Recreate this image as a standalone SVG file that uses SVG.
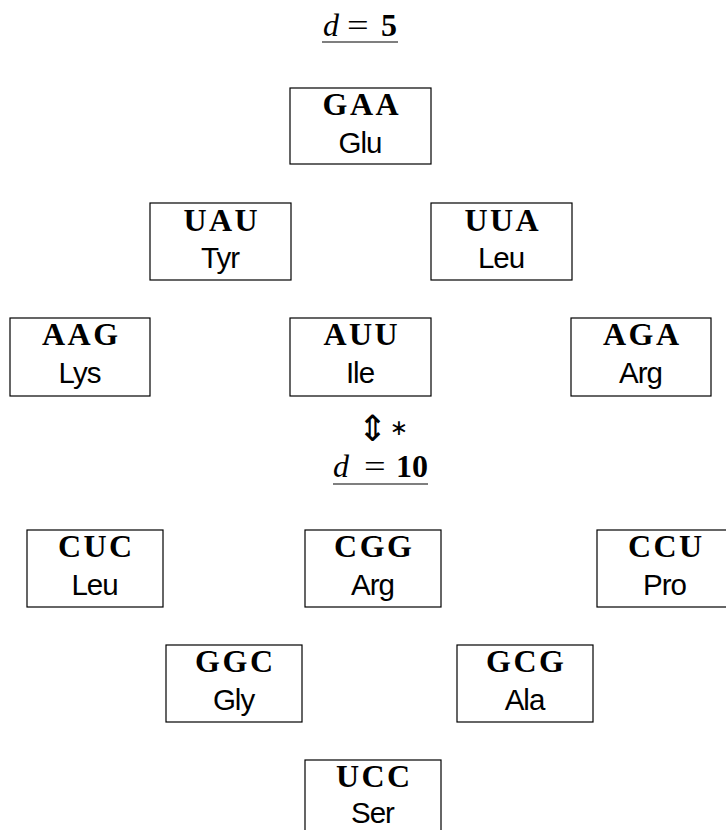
<svg xmlns="http://www.w3.org/2000/svg" width="726" height="830" viewBox="0 0 726 830">
<style>
.box{fill:#fff;stroke:#000;stroke-width:1.2}
.cod{font-family:"Liberation Serif",serif;font-weight:bold;font-size:32px;text-anchor:middle;letter-spacing:2.5px}
.aa{font-family:"Liberation Sans",sans-serif;font-size:29.5px;text-anchor:middle;letter-spacing:-1px}
.m{font-family:"Liberation Serif",serif;font-size:32px}
.ul{stroke:#000;stroke-width:1.2}
</style>
<rect width="726" height="830" fill="#fff"/>
<g id="title5">
<text class="m" x="323" y="36" font-style="italic">d</text>
<text class="m" x="347" y="36" transform="translate(347 0) scale(1.2 1) translate(-347 0)">=</text>
<text class="m" x="381" y="36" font-weight="bold">5</text>
<line class="ul" x1="322" y1="42" x2="398" y2="42"/>
</g>
<g id="GAA"><rect class="box" x="290" y="88" width="141" height="76"/><text class="cod" x="361.8" y="115">GAA</text><text class="aa" x="360" y="153">Glu</text></g>
<g id="UAU"><rect class="box" x="150" y="203" width="141" height="77"/><text class="cod" x="221.8" y="231">UAU</text><text class="aa" x="220" y="268">Tyr</text></g>
<g id="UUA"><rect class="box" x="431" y="203" width="141" height="77"/><text class="cod" x="502.8" y="231">UUA</text><text class="aa" x="501" y="268">Leu</text></g>
<g id="AAG"><rect class="box" x="10" y="318" width="140" height="78"/><text class="cod" x="81.3" y="345">AAG</text><text class="aa" x="79.5" y="383">Lys</text></g>
<g id="AUU"><rect class="box" x="290" y="318" width="141" height="78"/><text class="cod" x="361.8" y="345">AUU</text><text class="aa" x="360" y="383">Ile</text></g>
<g id="AGA"><rect class="box" x="571" y="318" width="140" height="78"/><text class="cod" x="642.3" y="345">AGA</text><text class="aa" x="640.5" y="383">Arg</text></g>
<g id="equiv">
<text x="372.5" y="441" font-family="DejaVu Sans,sans-serif" font-size="36" text-anchor="middle">⇕</text>
<text x="399" y="435" font-family="DejaVu Sans,sans-serif" font-size="22" text-anchor="middle">∗</text>
</g>
<g id="title10">
<text class="m" x="333" y="477" font-style="italic">d</text>
<text class="m" x="364" y="477" transform="translate(364 0) scale(1.2 1) translate(-364 0)">=</text>
<text class="m" x="396" y="477" font-weight="bold">10</text>
<line class="ul" x1="333" y1="484" x2="428" y2="484"/>
</g>
<g id="CUC"><rect class="box" x="27" y="530" width="136" height="77"/><text class="cod" x="96.3" y="557">CUC</text><text class="aa" x="94.5" y="595">Leu</text></g>
<g id="CGG"><rect class="box" x="305" y="530" width="136" height="77"/><text class="cod" x="374.3" y="557">CGG</text><text class="aa" x="372.5" y="595">Arg</text></g>
<g id="CCU"><rect class="box" x="597" y="530" width="136" height="77"/><text class="cod" x="666.3" y="557">CCU</text><text class="aa" x="664.5" y="595">Pro</text></g>
<g id="GGC"><rect class="box" x="166" y="645" width="136" height="77"/><text class="cod" x="235.3" y="672">GGC</text><text class="aa" x="233.5" y="710">Gly</text></g>
<g id="GCG"><rect class="box" x="457" y="645" width="136" height="77"/><text class="cod" x="526.3" y="672">GCG</text><text class="aa" x="524.5" y="710">Ala</text></g>
<g id="UCC"><rect class="box" x="305" y="760" width="136" height="77"/><text class="cod" x="374.3" y="787">UCC</text><text class="aa" x="372.5" y="823">Ser</text></g>
<g id="connectors"></g>
</svg>
